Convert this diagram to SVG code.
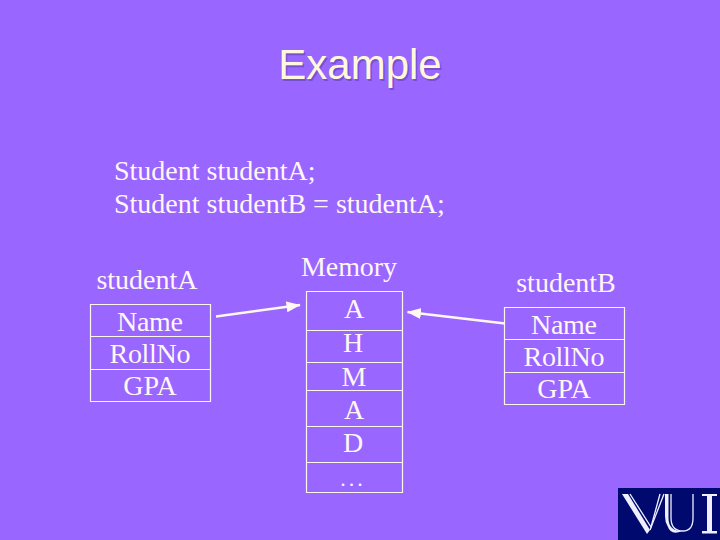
<svg xmlns="http://www.w3.org/2000/svg" width="720" height="540" viewBox="0 0 720 540">
<style>
.t{font-family:"Liberation Serif","Times New Roman",serif;font-size:28px;fill:#fff6f6}
.m{text-anchor:middle}
.b{fill:none;stroke:#fff6f0;stroke-width:1.2}
.c{fill:none;stroke:#fff8f0;stroke-width:2.4}
.lf{fill:#eef0ff}
.logo{fill:none;stroke:#eef0ff}
</style>
<defs>
<marker id="ah" markerUnits="userSpaceOnUse" markerWidth="15" markerHeight="12" refX="13.500" refY="5.500" orient="auto"><path d="M0 0L14 5.500L0 11Z" fill="#fff8f0"/></marker>
</defs>
<rect width="720" height="540" fill="#9966ff"/>
<text x="361.500" y="80.500" text-anchor="middle" font-family="'Liberation Sans',Arial,sans-serif" font-size="42" fill="#5a3fa8" opacity="0.55">Example</text>
<text x="360" y="79" text-anchor="middle" font-family="'Liberation Sans',Arial,sans-serif" font-size="42" fill="#fff8dc">Example</text>
<text class="t" x="114" y="180">Student studentA;</text>
<text class="t" x="114" y="213">Student studentB = studentA;</text>
<g id="studentA">
<text class="t m" x="147" y="289">studentA</text>
<path class="b" d="M90.500 304.500H210.500V401.500H90.500ZM90.500 336.500H210.500M90.500 369.500H210.500"/>
<text class="t m" x="150" y="331" textLength="66">Name</text>
<text class="t m" x="150" y="363" textLength="81">RollNo</text>
<text class="t m" x="150" y="395">GPA</text>
</g>
<g id="memory">
<text class="t m" x="349" y="276" textLength="96">Memory</text>
<path class="b" d="M306.500 291.500H402.500V492.500H306.500ZM306.500 330.500H402.500M306.500 362.500H402.500M306.500 390.500H402.500M306.500 426.500H402.500M306.500 462.500H402.500"/>
<text class="t m" x="354" y="318">A</text>
<text class="t m" x="353" y="352">H</text>
<text class="t m" x="354" y="386">M</text>
<text class="t m" x="354" y="419">A</text>
<text class="t m" x="353" y="452">D</text>
<text class="t m" x="353" y="486" font-size="22" letter-spacing="3" style="font-size:22px">...</text>
</g>
<g id="studentB">
<text class="t m" x="566" y="292">studentB</text>
<path class="b" d="M504.500 307.500H624.500V404.500H504.500ZM504.500 339.500H624.500M504.500 372.500H624.500"/>
<text class="t m" x="564" y="334" textLength="66">Name</text>
<text class="t m" x="564" y="366" textLength="81">RollNo</text>
<text class="t m" x="564" y="398">GPA</text>
</g>
<g id="connectors">
<line class="c" x1="216" y1="316.500" x2="300" y2="305" marker-end="url(#ah)"/>
<line class="c" x1="505" y1="323.500" x2="407.500" y2="312" marker-end="url(#ah)"/>
</g>
<g id="logo">
<rect x="618" y="488" width="102" height="52" fill="#000a6e"/>
<path class="lf" d="M622 494H628L650 530L647 534Z"/>
<path class="logo" stroke-width="1.300" d="M630 494L651 527L660 494"/>
<path class="logo" stroke-width="1.300" d="M650 530L664 494"/>
<path class="lf" d="M665 494H668.500V518Q668.500 531 682 531Q671 536 667.500 526Q665 522 665 516Z"/>
<path class="logo" stroke-width="1.300" d="M671 494V518Q671 531 683 531Q693 531 693 518V494"/>
<path class="lf" d="M702 494H717V496H712V531H717V533.500H702V531H707V496H702Z"/>
</g>
</svg>
